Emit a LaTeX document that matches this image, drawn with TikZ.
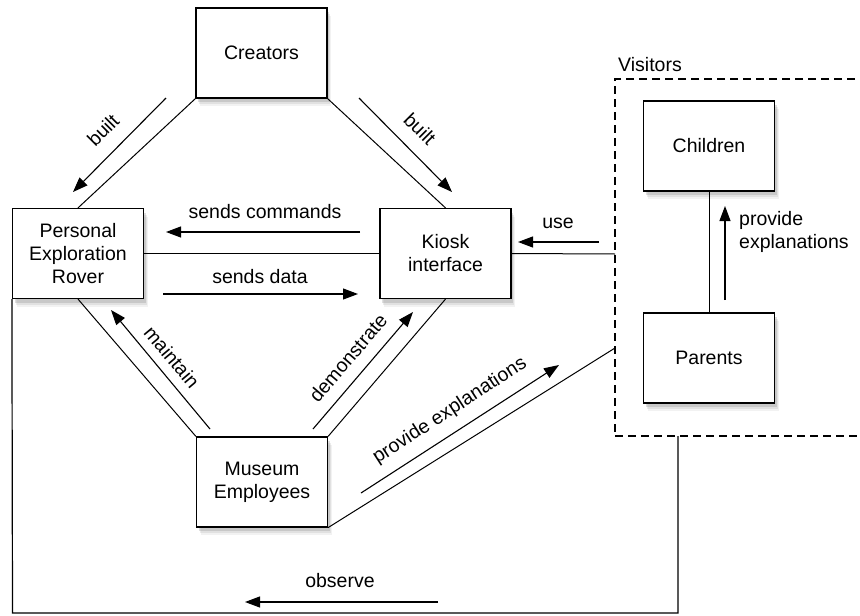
\documentclass[tikz,border=0pt]{standalone}
\usepackage{fontspec}
\setmainfont{Liberation Sans}
\usetikzlibrary{arrows.meta,shadows}
\begin{document}
\begin{tikzpicture}[x=1pt,y=-1pt,
  font=\fontsize{19.5}{23}\selectfont,
  box/.style={draw,fill=white,line width=1.2pt,minimum width=131pt,minimum height=90pt,
    align=center,inner sep=0pt,
    drop shadow={shadow xshift=4pt,shadow yshift=-8pt,opacity=0.10},
    drop shadow={shadow xshift=3pt,shadow yshift=-6pt,opacity=0.15},
    drop shadow={shadow xshift=2pt,shadow yshift=-4pt,opacity=0.25}},
  conn/.style={line width=1pt},
  arr/.style={line width=1.1pt,-{Triangle[length=15pt,width=11pt]}},
  lbl/.style={inner sep=0pt},
  group/.style={draw,dashed,dash pattern=on 8pt off 5pt,line width=1.1pt,
    minimum width=260pt,minimum height=357pt,inner sep=0pt}]
\useasboundingbox[fill=white] (0,0) rectangle (860,616);

% group
\node[group] (vis) at (745,257.5) {};
\node[lbl,anchor=base west] (vislbl) at (618,71) {Visitors};

% boxes
\node[box] (cre) at (261.5,53) {Creators};
\node[box] (per) at (78,253.5) {Personal\\Exploration\\Rover};
\node[box] (kio) at (445.5,253.5) {Kiosk\\interface};
\node[box] (mus) at (262,482) {Museum\\Employees};
\node[box] (chi) at (709,146) {Children};
\node[box] (par) at (709,358) {Parents};

% coordinates
\coordinate (visuse) at (615,254);
\coordinate (visexp) at (615,348);
\coordinate (obsend) at (678,436);
\coordinate (obsbl) at (12.5,613);
\coordinate (obsbr) at (678,613);

% connecting lines
\draw[conn] (cre.south west) -- (per.north);
\draw[conn] (cre.south east) -- (kio.north);
\draw[conn] (per.east) -- (kio.west);
\draw[conn] (kio.east) -- (visuse);
\draw[conn] (mus.north west) -- (per.south);
\draw[conn] (mus.north east) -- (kio.south);
\draw[conn] (mus.south east) -- (visexp);
\draw[conn] (chi.south) -- (par.north);
\draw[conn,line width=1.2pt] (per.south west) -- (obsbl) -- (obsbr) -- (obsend);

% arrow coordinates
\coordinate (b1s) at (166,98);  \coordinate (b1e) at (73,192);
\coordinate (b2s) at (359,98);  \coordinate (b2e) at (452,192);
\coordinate (scs) at (360,232); \coordinate (sce) at (166,232);
\coordinate (sds) at (163,294); \coordinate (sde) at (358,294);
\coordinate (us) at (599,242);  \coordinate (ue) at (518,242);
\coordinate (pes) at (725,300); \coordinate (pee) at (725,206);
\coordinate (ms) at (210,429);  \coordinate (me) at (111,310);
\coordinate (ds) at (313,429);  \coordinate (de) at (413,312);
\coordinate (xs) at (361,493);  \coordinate (xe) at (559,365);
\coordinate (os) at (438,602);  \coordinate (oe) at (245,602);

\draw[arr] (b1s) -- (b1e);
\draw[arr] (b2s) -- (b2e);
\draw[arr] (scs) -- (sce);
\draw[arr] (sds) -- (sde);
\draw[arr] (us) -- (ue);
\draw[arr] (pes) -- (pee);
\draw[arr] (ms) -- (me);
\draw[arr] (ds) -- (de);
\draw[arr] (xs) -- (xe);
\draw[arr] (os) -- (oe);

% labels
\node[lbl,rotate=45] (lb1) at (103,130) {built};
\node[lbl,rotate=-45] (lb2) at (420,129) {built};
\node[lbl,anchor=base] (lsc) at (265,218) {sends commands};
\node[lbl,anchor=base] (lsd) at (260,283) {sends data};
\node[lbl,anchor=base] (lus) at (558,228) {use};
\node[lbl,anchor=base west,align=left] (lpe) at (739,248) {provide\\explanations};
\node[lbl,rotate=-50] (lm) at (172,357) {maintain};
\node[lbl,rotate=49.5] (ld) at (348,358) {demonstrate};
\node[lbl,rotate=33] (lx) at (450,411) {provide explanations};
\node[lbl,anchor=base] (lo) at (340,587) {observe};
\end{tikzpicture}
\end{document}
